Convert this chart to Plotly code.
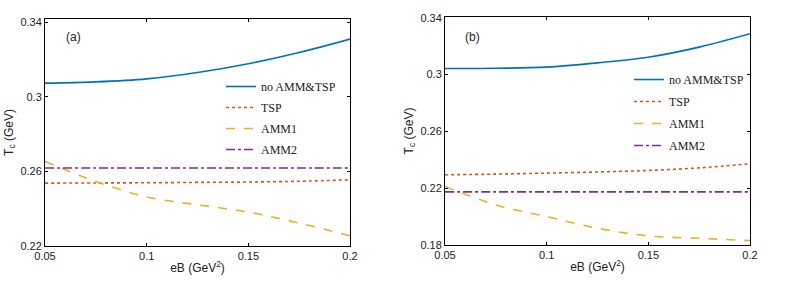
import plotly.graph_objects as go

eB = [0.05, 0.075, 0.1, 0.125, 0.15, 0.175, 0.2]

# Panel (a)
a_none = [0.3073, 0.3080, 0.3096, 0.3130, 0.3177, 0.3237, 0.3309]
a_tsp = [0.2537, 0.2538, 0.2539, 0.2541, 0.2543, 0.2547, 0.2555]
a_amm1 = [0.2654, 0.2546, 0.2463, 0.2421, 0.2382, 0.2323, 0.2255]
a_amm2 = [0.2618, 0.2618, 0.2618, 0.2618, 0.2618, 0.2618, 0.2618]

# Panel (b)
b_none = [0.3042, 0.3044, 0.3052, 0.3082, 0.3122, 0.3193, 0.3287]
b_tsp = [0.2294, 0.2299, 0.2306, 0.2314, 0.2325, 0.2343, 0.2372]
b_amm1 = [0.2212, 0.2082, 0.2000, 0.1918, 0.1864, 0.1847, 0.1831]
b_amm2 = [0.2174, 0.2174, 0.2174, 0.2174, 0.2174, 0.2174, 0.2174]

names = ["no AMM&TSP", "TSP", "AMM1", "AMM2"]
colors = ["#0072BD", "#D95319", "#EDB120", "#7E2F8E"]
dashes = ["solid", "dot", "dash", "dashdot"]

xticks = [0.05, 0.1, 0.15, 0.2]
xticktext = ["0.05", "0.1", "0.15", "0.2"]
a_yticks = [0.22, 0.26, 0.3, 0.34]
b_yticks = [0.18, 0.22, 0.26, 0.3, 0.34]

fig = go.Figure()

for i, ys in enumerate([a_none, a_tsp, a_amm1, a_amm2]):
    fig.add_trace(go.Scatter(x=eB, y=ys, mode="lines", name=names[i],
                             line=dict(color=colors[i], dash=dashes[i], width=1.6, shape="spline"),
                             xaxis="x", yaxis="y", legend="legend", legendgroup="a" + str(i)))
for i, ys in enumerate([b_none, b_tsp, b_amm1, b_amm2]):
    fig.add_trace(go.Scatter(x=eB, y=ys, mode="lines", name=names[i],
                             line=dict(color=colors[i], dash=dashes[i], width=1.6, shape="spline"),
                             xaxis="x2", yaxis="y2", legend="legend2", legendgroup="b" + str(i)))

axis_common = dict(showline=True, linecolor="black", linewidth=1, mirror="ticks",
                   ticks="inside", ticklen=3, tickcolor="black", showgrid=False,
                   zeroline=False, automargin=False,
                   tickfont=dict(family="Liberation Sans, Arial", size=11, color="#222"))

title_font = dict(family="Liberation Sans, Arial", size=12, color="#222")
legend_font = dict(family="Liberation Serif, Times New Roman", size=12, color="#222")

fig.update_layout(
    width=789, height=284,
    margin=dict(l=0, r=0, t=0, b=0, autoexpand=False),
    plot_bgcolor="white", paper_bgcolor="white",
    xaxis=dict(domain=[45 / 789, 350 / 789], range=[0.05, 0.2], anchor="y",
               tickvals=xticks, ticktext=xticktext,
               title=dict(text="eB (GeV<sup>2</sup>)", font=title_font, standoff=2),
               **axis_common),
    yaxis=dict(domain=[1 - 246 / 284, 1 - 19 / 284], range=[0.22, 0.3417], anchor="x",
               tickvals=a_yticks, ticktext=["0.22", "0.26", "0.3", "0.34"],
               title=dict(text="T<sub>c</sub> (GeV)", font=title_font, standoff=4),
               **axis_common),
    xaxis2=dict(domain=[445 / 789, 750 / 789], range=[0.05, 0.2], anchor="y2",
                tickvals=xticks, ticktext=xticktext,
                title=dict(text="eB (GeV<sup>2</sup>)", font=title_font, standoff=2),
                **axis_common),
    yaxis2=dict(domain=[1 - 245 / 284, 1 - 17 / 284], range=[0.18, 0.3405], anchor="x2",
                tickvals=b_yticks, ticktext=["0.18", "0.22", "0.26", "0.3", "0.34"],
                title=dict(text="T<sub>c</sub> (GeV)", font=title_font, standoff=4),
                **axis_common),
    legend=dict(x=221 / 789, y=1 - 72 / 284, xanchor="left", yanchor="top",
                bgcolor="rgba(0,0,0,0)", tracegroupgap=2, itemwidth=30,
                font=legend_font),
    legend2=dict(x=629 / 789, y=1 - 65 / 284, xanchor="left", yanchor="top",
                 bgcolor="rgba(0,0,0,0)", tracegroupgap=3, itemwidth=30,
                 font=legend_font),
    showlegend=True,
    annotations=[
        dict(text="(a)", x=0.0593, y=0.332, xref="x", yref="y", showarrow=False,
             xanchor="left", yanchor="middle", font=dict(family="Liberation Sans, Arial", size=12, color="#222")),
        dict(text="(b)", x=0.0589, y=0.3266, xref="x2", yref="y2", showarrow=False,
             xanchor="left", yanchor="middle", font=dict(family="Liberation Sans, Arial", size=12, color="#222")),
    ],
)

fig.write_html("out.html", config={"displayModeBar": False},
               post_script="document.body.style.margin='0';")
